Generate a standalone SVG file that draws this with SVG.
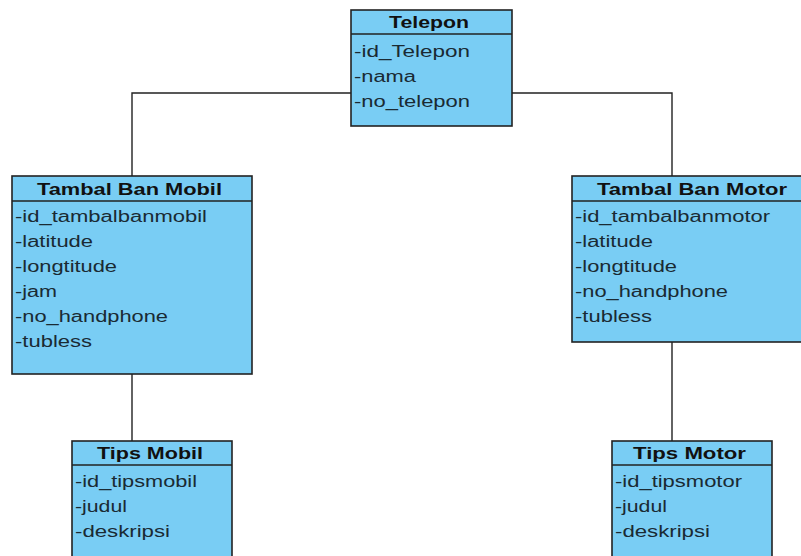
<svg xmlns="http://www.w3.org/2000/svg" width="801" height="556" viewBox="0 0 801 556">
<style>
.box{fill:#79cdf4;stroke:#222;stroke-width:1.6}
.div{stroke:#222;stroke-width:1.4}
.t{font-family:"Liberation Sans",Arial,sans-serif;font-size:16px;font-weight:bold;fill:#111}
.a{font-family:"Liberation Sans",Arial,sans-serif;font-size:16px;fill:#1a2a33}
.c{stroke:#222;stroke-width:1.4;fill:none}
</style>
<rect width="801" height="556" fill="#fff"/>
<g id="connectors">
<polyline class="c" points="351,93 132,93 132,176"/>
<polyline class="c" points="512,93 672,93 672,176"/>
<line class="c" x1="132" y1="374" x2="132" y2="441"/>
<line class="c" x1="672" y1="342" x2="672" y2="441"/>
</g>
<g id="telepon">
<rect class="box" x="351" y="10" width="161" height="116"/>
<line class="div" x1="351" y1="34" x2="512" y2="34"/>
<text class="t" x="389" y="28" textLength="80" lengthAdjust="spacingAndGlyphs">Telepon</text>
<text class="a" x="354" y="57" textLength="116" lengthAdjust="spacingAndGlyphs">-id_Telepon</text>
<text class="a" x="354" y="82" textLength="62" lengthAdjust="spacingAndGlyphs">-nama</text>
<text class="a" x="354" y="107" textLength="116" lengthAdjust="spacingAndGlyphs">-no_telepon</text>
</g>
<g id="tambal-ban-mobil">
<rect class="box" x="12" y="176" width="240" height="198"/>
<line class="div" x1="12" y1="201" x2="252" y2="201"/>
<text class="t" x="37" y="195" textLength="185" lengthAdjust="spacingAndGlyphs">Tambal Ban Mobil</text>
<text class="a" x="15" y="222" textLength="192" lengthAdjust="spacingAndGlyphs">-id_tambalbanmobil</text>
<text class="a" x="15" y="247" textLength="78" lengthAdjust="spacingAndGlyphs">-latitude</text>
<text class="a" x="15" y="272" textLength="102" lengthAdjust="spacingAndGlyphs">-longtitude</text>
<text class="a" x="15" y="297" textLength="42" lengthAdjust="spacingAndGlyphs">-jam</text>
<text class="a" x="15" y="322" textLength="153" lengthAdjust="spacingAndGlyphs">-no_handphone</text>
<text class="a" x="15" y="347" textLength="77" lengthAdjust="spacingAndGlyphs">-tubless</text>
</g>
<g id="tambal-ban-motor">
<rect class="box" x="572" y="176" width="232" height="166"/>
<line class="div" x1="572" y1="201" x2="804" y2="201"/>
<text class="t" x="597" y="195" textLength="190" lengthAdjust="spacingAndGlyphs">Tambal Ban Motor</text>
<text class="a" x="575" y="222" textLength="195" lengthAdjust="spacingAndGlyphs">-id_tambalbanmotor</text>
<text class="a" x="575" y="247" textLength="78" lengthAdjust="spacingAndGlyphs">-latitude</text>
<text class="a" x="575" y="272" textLength="102" lengthAdjust="spacingAndGlyphs">-longtitude</text>
<text class="a" x="575" y="297" textLength="153" lengthAdjust="spacingAndGlyphs">-no_handphone</text>
<text class="a" x="575" y="322" textLength="77" lengthAdjust="spacingAndGlyphs">-tubless</text>
</g>
<g id="tips-mobil">
<rect class="box" x="72" y="441" width="160" height="125"/>
<line class="div" x1="72" y1="465" x2="232" y2="465"/>
<text class="t" x="97" y="459" textLength="106" lengthAdjust="spacingAndGlyphs">Tips Mobil</text>
<text class="a" x="75" y="487" textLength="122" lengthAdjust="spacingAndGlyphs">-id_tipsmobil</text>
<text class="a" x="75" y="512" textLength="52" lengthAdjust="spacingAndGlyphs">-judul</text>
<text class="a" x="75" y="537" textLength="95" lengthAdjust="spacingAndGlyphs">-deskripsi</text>
</g>
<g id="tips-motor">
<rect class="box" x="612" y="441" width="160" height="125"/>
<line class="div" x1="612" y1="465" x2="772" y2="465"/>
<text class="t" x="633" y="459" textLength="113" lengthAdjust="spacingAndGlyphs">Tips Motor</text>
<text class="a" x="615" y="487" textLength="127" lengthAdjust="spacingAndGlyphs">-id_tipsmotor</text>
<text class="a" x="615" y="512" textLength="52" lengthAdjust="spacingAndGlyphs">-judul</text>
<text class="a" x="615" y="537" textLength="95" lengthAdjust="spacingAndGlyphs">-deskripsi</text>
</g>
</svg>
